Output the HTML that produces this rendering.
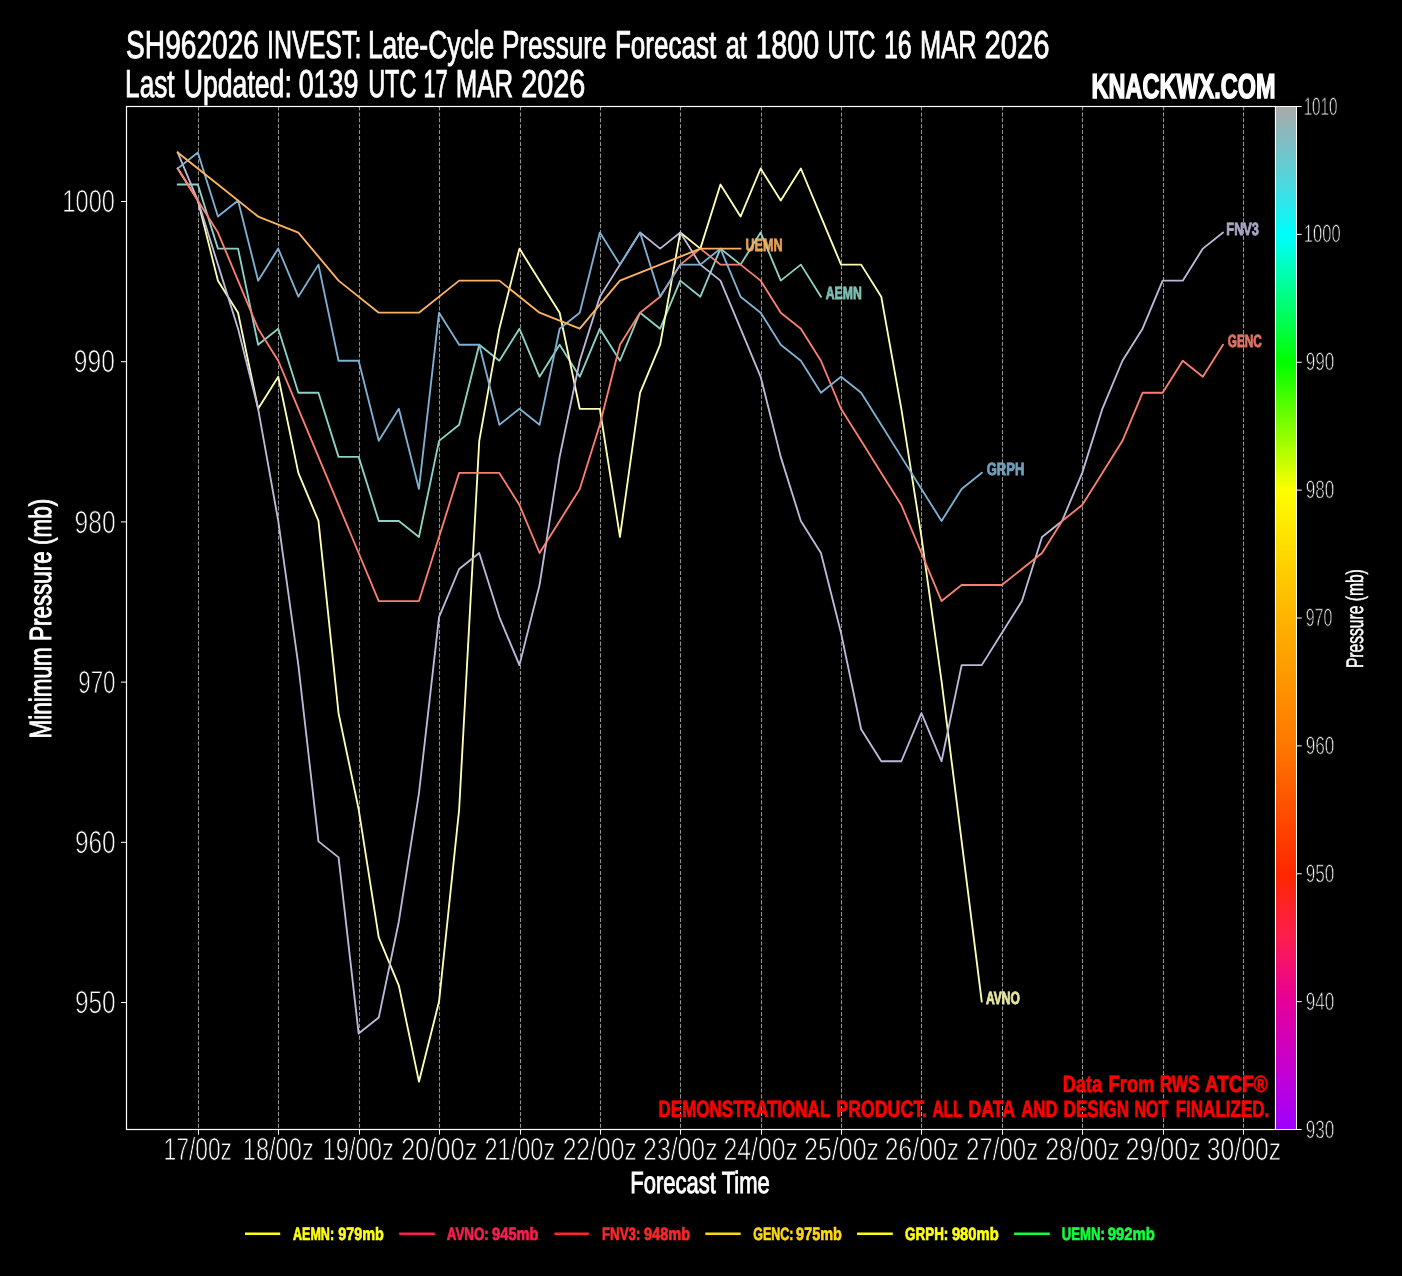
<!DOCTYPE html>
<html><head><meta charset="utf-8"><title>SH962026 INVEST Pressure Forecast</title>
<style>html,body{margin:0;padding:0;background:#000;}body{width:1402px;height:1276px;overflow:hidden;font-family:"Liberation Sans",sans-serif;}svg{display:block;}</style></head>
<body>
<svg width="1402" height="1276" viewBox="0 0 1402 1276" font-family='"Liberation Sans", sans-serif' style="opacity:0.9999;will-change:transform" text-rendering="geometricPrecision">
<defs><linearGradient id="cb" x1="0" y1="0" x2="0" y2="1">
<stop offset="0.0000" stop-color="#aaaaaa"/>
<stop offset="0.0625" stop-color="#5fd0d8"/>
<stop offset="0.1250" stop-color="#00ffff"/>
<stop offset="0.1875" stop-color="#00ff80"/>
<stop offset="0.2500" stop-color="#00ff00"/>
<stop offset="0.3125" stop-color="#80ff00"/>
<stop offset="0.3750" stop-color="#ffff00"/>
<stop offset="0.4375" stop-color="#ffd800"/>
<stop offset="0.5000" stop-color="#ffb400"/>
<stop offset="0.6250" stop-color="#ff7800"/>
<stop offset="0.7500" stop-color="#ff2800"/>
<stop offset="0.8125" stop-color="#ff1e50"/>
<stop offset="0.8750" stop-color="#e6009a"/>
<stop offset="0.9375" stop-color="#c800d0"/>
<stop offset="1.0000" stop-color="#a000ff"/>
</linearGradient>
<clipPath id="ax"><rect x="126.5" y="106.5" width="1149.0" height="1023.0"/></clipPath><clipPath id="redclip"><rect x="1063" y="1074" width="205" height="18"/><rect x="659" y="1100" width="609" height="18"/></clipPath></defs>
<rect width="1402" height="1276" fill="#000"/>
<path d="M198.50 106.5V1129.5M278.50 106.5V1129.5M359.50 106.5V1129.5M439.50 106.5V1129.5M520.50 106.5V1129.5M600.50 106.5V1129.5M680.50 106.5V1129.5M761.50 106.5V1129.5M841.50 106.5V1129.5M921.50 106.5V1129.5M1002.50 106.5V1129.5M1082.50 106.5V1129.5M1163.50 106.5V1129.5M1243.50 106.5V1129.5" stroke="#929292" stroke-width="1.1" stroke-dasharray="4.1 1.78" fill="none"/>
<g clip-path="url(#ax)" fill="none" stroke-width="1.85" stroke-linejoin="round" stroke-linecap="square">
<path d="M177.75 184.53L197.85 184.53L217.95 248.61L238.05 248.61L258.15 344.73L278.25 328.71L298.35 392.79L318.45 392.79L338.55 456.87L358.65 456.87L378.75 520.95L398.85 520.95L418.95 536.97L439.05 440.85L459.15 424.83L479.25 344.73L499.35 360.75L519.45 328.71L539.55 376.77L559.65 344.73L579.75 376.77L599.85 328.71L619.95 360.75L640.05 312.69L660.15 328.71L680.25 280.65L700.35 296.67L720.45 248.61L740.55 264.63L760.65 232.59L780.75 280.65L800.85 264.63L820.95 296.67" stroke="#8dd3c7"/>
<path d="M177.75 168.51L197.85 200.55L217.95 280.65L238.05 312.69L258.15 408.81L278.25 376.77L298.35 472.89L318.45 520.95L338.55 713.19L358.65 809.31L378.75 937.47L398.85 985.53L418.95 1081.65L439.05 1001.55L459.15 809.31L479.25 440.85L499.35 328.71L519.45 248.61L539.55 280.65L559.65 312.69L579.75 408.81L599.85 408.81L619.95 536.97L640.05 392.79L660.15 344.73L680.25 232.59L700.35 248.61L720.45 184.53L740.55 216.57L760.65 168.51L780.75 200.55L800.85 168.51L820.95 216.57L841.05 264.63L861.15 264.63L881.25 296.67L901.35 408.81L921.45 536.97L941.55 681.15L961.65 841.35L981.75 1001.55" stroke="#ffffb3"/>
<path d="M177.75 152.49L197.85 200.55L217.95 264.63L238.05 328.71L258.15 408.81L278.25 520.95L298.35 665.13L318.45 841.35L338.55 857.37L358.65 1033.59L378.75 1017.57L398.85 921.45L418.95 793.29L439.05 617.07L459.15 569.01L479.25 552.99L499.35 617.07L519.45 665.13L539.55 585.03L559.65 456.87L579.75 360.75L599.85 296.67L619.95 264.63L640.05 232.59L660.15 248.61L680.25 232.59L700.35 264.63L720.45 280.65L740.55 328.71L760.65 376.77L780.75 456.87L800.85 520.95L820.95 552.99L841.05 633.09L861.15 729.21L881.25 761.25L901.35 761.25L921.45 713.19L941.55 761.25L961.65 665.13L981.75 665.13L1001.85 633.09L1021.95 601.05L1042.05 536.97L1062.15 520.95L1082.25 472.89L1102.35 408.81L1122.45 360.75L1142.55 328.71L1162.65 280.65L1182.75 280.65L1202.85 248.61L1222.95 232.59" stroke="#bebada"/>
<path d="M177.75 168.51L197.85 200.55L217.95 232.59L238.05 280.65L258.15 328.71L278.25 360.75L298.35 408.81L318.45 456.87L338.55 504.93L358.65 552.99L378.75 601.05L398.85 601.05L418.95 601.05L439.05 536.97L459.15 472.89L479.25 472.89L499.35 472.89L519.45 504.93L539.55 552.99L559.65 520.95L579.75 488.91L599.85 424.83L619.95 344.73L640.05 312.69L660.15 296.67L680.25 264.63L700.35 248.61L720.45 264.63L740.55 264.63L760.65 280.65L780.75 312.69L800.85 328.71L820.95 360.75L841.05 408.81L861.15 440.85L881.25 472.89L901.35 504.93L921.45 552.99L941.55 601.05L961.65 585.03L981.75 585.03L1001.85 585.03L1021.95 569.01L1042.05 552.99L1062.15 520.95L1082.25 504.93L1102.35 472.89L1122.45 440.85L1142.55 392.79L1162.65 392.79L1182.75 360.75L1202.85 376.77L1222.95 344.73" stroke="#fb8072"/>
<path d="M177.75 168.51L197.85 152.49L217.95 216.57L238.05 200.55L258.15 280.65L278.25 248.61L298.35 296.67L318.45 264.63L338.55 360.75L358.65 360.75L378.75 440.85L398.85 408.81L418.95 488.91L439.05 312.69L459.15 344.73L479.25 344.73L499.35 424.83L519.45 408.81L539.55 424.83L559.65 328.71L579.75 312.69L599.85 232.59L619.95 264.63L640.05 232.59L660.15 296.67L680.25 264.63L700.35 264.63L720.45 248.61L740.55 296.67L760.65 312.69L780.75 344.73L800.85 360.75L820.95 392.79L841.05 376.77L861.15 392.79L881.25 424.83L901.35 456.87L921.45 488.91L941.55 520.95L961.65 488.91L981.75 472.89" stroke="#80b1d3"/>
<path d="M177.75 152.49L217.95 184.53L258.15 216.57L298.35 232.59L338.55 280.65L378.75 312.69L418.95 312.69L459.15 280.65L499.35 280.65L539.55 312.69L579.75 328.71L619.95 280.65L660.15 264.63L700.35 248.61L740.55 248.61" stroke="#fdb462"/>
</g>
<text x="825.75" y="299.07" font-size="17.7" font-weight="bold" fill="#8dd3c7" textLength="36.00" lengthAdjust="spacingAndGlyphs" stroke="#8dd3c7" stroke-width="0.9" opacity="0.9">AEMN</text>
<text x="985.95" y="1003.95" font-size="17.7" font-weight="bold" fill="#ffffb3" textLength="33.90" lengthAdjust="spacingAndGlyphs" stroke="#ffffb3" stroke-width="0.9" opacity="0.9">AVNO</text>
<text x="1226.35" y="234.99" font-size="17.7" font-weight="bold" fill="#bebada" textLength="32.60" lengthAdjust="spacingAndGlyphs" stroke="#bebada" stroke-width="0.9" opacity="0.9">FNV3</text>
<text x="1227.75" y="347.13" font-size="17.7" font-weight="bold" fill="#fb8072" textLength="34.10" lengthAdjust="spacingAndGlyphs" stroke="#fb8072" stroke-width="0.9" opacity="0.9">GENC</text>
<text x="986.75" y="475.29" font-size="17.7" font-weight="bold" fill="#80b1d3" textLength="37.60" lengthAdjust="spacingAndGlyphs" stroke="#80b1d3" stroke-width="0.9" opacity="0.9">GRPH</text>
<text x="745.45" y="251.01" font-size="17.7" font-weight="bold" fill="#fdb462" textLength="37.10" lengthAdjust="spacingAndGlyphs" stroke="#fdb462" stroke-width="0.9" opacity="0.9">UEMN</text>
<path d="M198.50 106.5V1129.5M278.50 106.5V1129.5M359.50 106.5V1129.5M439.50 106.5V1129.5M520.50 106.5V1129.5M600.50 106.5V1129.5M680.50 106.5V1129.5M761.50 106.5V1129.5M841.50 106.5V1129.5M921.50 106.5V1129.5M1002.50 106.5V1129.5M1082.50 106.5V1129.5M1163.50 106.5V1129.5M1243.50 106.5V1129.5" stroke="#fff" stroke-width="1.1" stroke-dasharray="4.1 1.78" fill="none" opacity="0.22" clip-path="url(#redclip)"/>
<rect x="126.5" y="106.5" width="1149.0" height="1023.0" fill="none" stroke="#fff" stroke-width="1.2"/>
<path d="M198.50 1129.5v5.2M278.50 1129.5v5.2M359.50 1129.5v5.2M439.50 1129.5v5.2M520.50 1129.5v5.2M600.50 1129.5v5.2M680.50 1129.5v5.2M761.50 1129.5v5.2M841.50 1129.5v5.2M921.50 1129.5v5.2M1002.50 1129.5v5.2M1082.50 1129.5v5.2M1163.50 1129.5v5.2M1243.50 1129.5v5.2M126.5 201.50h-5.5M126.5 361.70h-5.5M126.5 521.90h-5.5M126.5 682.10h-5.5M126.5 842.30h-5.5M126.5 1002.50h-5.5" stroke="#fff" stroke-width="1" fill="none"/>
<text x="163.57" y="1160.00" font-size="31.8" font-weight="normal" fill="#fff" textLength="68.40" lengthAdjust="spacingAndGlyphs" stroke="#000" stroke-width="0.8">17/00z</text>
<text x="242.72" y="1160.00" font-size="31.8" font-weight="normal" fill="#fff" textLength="71.04" lengthAdjust="spacingAndGlyphs" stroke="#000" stroke-width="0.8">18/00z</text>
<text x="322.43" y="1160.00" font-size="31.8" font-weight="normal" fill="#fff" textLength="71.45" lengthAdjust="spacingAndGlyphs" stroke="#000" stroke-width="0.8">19/00z</text>
<text x="400.90" y="1160.00" font-size="31.8" font-weight="normal" fill="#fff" textLength="76.55" lengthAdjust="spacingAndGlyphs" stroke="#000" stroke-width="0.8">20/00z</text>
<text x="484.51" y="1160.00" font-size="31.8" font-weight="normal" fill="#fff" textLength="70.70" lengthAdjust="spacingAndGlyphs" stroke="#000" stroke-width="0.8">21/00z</text>
<text x="562.64" y="1160.00" font-size="31.8" font-weight="normal" fill="#fff" textLength="74.12" lengthAdjust="spacingAndGlyphs" stroke="#000" stroke-width="0.8">22/00z</text>
<text x="643.12" y="1160.00" font-size="31.8" font-weight="normal" fill="#fff" textLength="74.42" lengthAdjust="spacingAndGlyphs" stroke="#000" stroke-width="0.8">23/00z</text>
<text x="723.48" y="1160.00" font-size="31.8" font-weight="normal" fill="#fff" textLength="74.44" lengthAdjust="spacingAndGlyphs" stroke="#000" stroke-width="0.8">24/00z</text>
<text x="804.03" y="1160.00" font-size="31.8" font-weight="normal" fill="#fff" textLength="75.03" lengthAdjust="spacingAndGlyphs" stroke="#000" stroke-width="0.8">25/00z</text>
<text x="884.81" y="1160.00" font-size="31.8" font-weight="normal" fill="#fff" textLength="74.25" lengthAdjust="spacingAndGlyphs" stroke="#000" stroke-width="0.8">26/00z</text>
<text x="965.98" y="1160.00" font-size="31.8" font-weight="normal" fill="#fff" textLength="72.29" lengthAdjust="spacingAndGlyphs" stroke="#000" stroke-width="0.8">27/00z</text>
<text x="1045.14" y="1160.00" font-size="31.8" font-weight="normal" fill="#fff" textLength="74.88" lengthAdjust="spacingAndGlyphs" stroke="#000" stroke-width="0.8">28/00z</text>
<text x="1125.46" y="1160.00" font-size="31.8" font-weight="normal" fill="#fff" textLength="75.36" lengthAdjust="spacingAndGlyphs" stroke="#000" stroke-width="0.8">29/00z</text>
<text x="1206.84" y="1160.00" font-size="31.8" font-weight="normal" fill="#fff" textLength="74.22" lengthAdjust="spacingAndGlyphs" stroke="#000" stroke-width="0.8">30/00z</text>
<text x="62.36" y="212.20" font-size="31.8" font-weight="normal" fill="#fff" textLength="52.56" lengthAdjust="spacingAndGlyphs" stroke="#000" stroke-width="0.8">1000</text>
<text x="73.81" y="372.40" font-size="31.8" font-weight="normal" fill="#fff" textLength="41.10" lengthAdjust="spacingAndGlyphs" stroke="#000" stroke-width="0.8">990</text>
<text x="74.60" y="532.60" font-size="31.8" font-weight="normal" fill="#fff" textLength="41.12" lengthAdjust="spacingAndGlyphs" stroke="#000" stroke-width="0.8">980</text>
<text x="78.23" y="692.80" font-size="31.8" font-weight="normal" fill="#fff" textLength="37.22" lengthAdjust="spacingAndGlyphs" stroke="#000" stroke-width="0.8">970</text>
<text x="74.93" y="853.00" font-size="31.8" font-weight="normal" fill="#fff" textLength="40.76" lengthAdjust="spacingAndGlyphs" stroke="#000" stroke-width="0.8">960</text>
<text x="74.93" y="1013.20" font-size="31.8" font-weight="normal" fill="#fff" textLength="40.76" lengthAdjust="spacingAndGlyphs" stroke="#000" stroke-width="0.8">950</text>
<text x="630.20" y="1192.80" font-size="30.7" font-weight="normal" fill="#fff" textLength="139.60" lengthAdjust="spacingAndGlyphs" stroke="#fff" stroke-width="0.95">Forecast Time</text>
<text x="0.00" y="0.00" font-size="30.7" font-weight="normal" fill="#fff" textLength="239.60" lengthAdjust="spacingAndGlyphs" transform="translate(51.00,738.40) rotate(-90)" stroke="#fff" stroke-width="0.95">Minimum Pressure (mb)</text>
<text x="126.12" y="57.80" font-size="38.8" font-weight="normal" fill="#fff" textLength="132.90" lengthAdjust="spacingAndGlyphs" stroke="#fff" stroke-width="0.9">SH962026</text>
<text x="267.02" y="57.80" font-size="38.8" font-weight="normal" fill="#fff" textLength="94.48" lengthAdjust="spacingAndGlyphs" stroke="#fff" stroke-width="0.9">INVEST:</text>
<text x="367.89" y="57.80" font-size="38.8" font-weight="normal" fill="#fff" textLength="126.40" lengthAdjust="spacingAndGlyphs" stroke="#fff" stroke-width="0.9">Late-Cycle</text>
<text x="501.92" y="57.80" font-size="38.8" font-weight="normal" fill="#fff" textLength="104.63" lengthAdjust="spacingAndGlyphs" stroke="#fff" stroke-width="0.9">Pressure</text>
<text x="614.88" y="57.80" font-size="38.8" font-weight="normal" fill="#fff" textLength="101.31" lengthAdjust="spacingAndGlyphs" stroke="#fff" stroke-width="0.9">Forecast</text>
<text x="725.63" y="57.80" font-size="38.8" font-weight="normal" fill="#fff" textLength="21.12" lengthAdjust="spacingAndGlyphs" stroke="#fff" stroke-width="0.9">at</text>
<text x="755.46" y="57.80" font-size="38.8" font-weight="normal" fill="#fff" textLength="63.62" lengthAdjust="spacingAndGlyphs" stroke="#fff" stroke-width="0.9">1800</text>
<text x="827.51" y="57.80" font-size="38.8" font-weight="normal" fill="#fff" textLength="47.98" lengthAdjust="spacingAndGlyphs" stroke="#fff" stroke-width="0.9">UTC</text>
<text x="883.93" y="57.80" font-size="38.8" font-weight="normal" fill="#fff" textLength="27.83" lengthAdjust="spacingAndGlyphs" stroke="#fff" stroke-width="0.9">16</text>
<text x="920.05" y="57.80" font-size="38.8" font-weight="normal" fill="#fff" textLength="56.49" lengthAdjust="spacingAndGlyphs" stroke="#fff" stroke-width="0.9">MAR</text>
<text x="984.52" y="57.80" font-size="38.8" font-weight="normal" fill="#fff" textLength="65.08" lengthAdjust="spacingAndGlyphs" stroke="#fff" stroke-width="0.9">2026</text>
<text x="125.11" y="97.00" font-size="38.8" font-weight="normal" fill="#fff" textLength="49.46" lengthAdjust="spacingAndGlyphs" stroke="#fff" stroke-width="0.9">Last</text>
<text x="183.80" y="97.00" font-size="38.8" font-weight="normal" fill="#fff" textLength="108.03" lengthAdjust="spacingAndGlyphs" stroke="#fff" stroke-width="0.9">Updated:</text>
<text x="298.71" y="97.00" font-size="38.8" font-weight="normal" fill="#fff" textLength="59.65" lengthAdjust="spacingAndGlyphs" stroke="#fff" stroke-width="0.9">0139</text>
<text x="368.16" y="97.00" font-size="38.8" font-weight="normal" fill="#fff" textLength="48.27" lengthAdjust="spacingAndGlyphs" stroke="#fff" stroke-width="0.9">UTC</text>
<text x="423.52" y="97.00" font-size="38.8" font-weight="normal" fill="#fff" textLength="24.19" lengthAdjust="spacingAndGlyphs" stroke="#fff" stroke-width="0.9">17</text>
<text x="455.86" y="97.00" font-size="38.8" font-weight="normal" fill="#fff" textLength="57.36" lengthAdjust="spacingAndGlyphs" stroke="#fff" stroke-width="0.9">MAR</text>
<text x="521.16" y="97.00" font-size="38.8" font-weight="normal" fill="#fff" textLength="64.18" lengthAdjust="spacingAndGlyphs" stroke="#fff" stroke-width="0.9">2026</text>
<text x="1062.85" y="1091.50" font-size="23.5" font-weight="bold" fill="#ff0000" textLength="39.31" lengthAdjust="spacingAndGlyphs" stroke="#ff0000" stroke-width="0.7">Data</text>
<text x="1108.60" y="1091.50" font-size="23.5" font-weight="bold" fill="#ff0000" textLength="45.83" lengthAdjust="spacingAndGlyphs" stroke="#ff0000" stroke-width="0.7">From</text>
<text x="1159.66" y="1091.50" font-size="23.5" font-weight="bold" fill="#ff0000" textLength="39.84" lengthAdjust="spacingAndGlyphs" stroke="#ff0000" stroke-width="0.7">RWS</text>
<text x="1205.08" y="1091.50" font-size="23.5" font-weight="bold" fill="#ff0000" textLength="62.66" lengthAdjust="spacingAndGlyphs" stroke="#ff0000" stroke-width="0.7">ATCF®</text>
<text x="658.53" y="1117.40" font-size="23.5" font-weight="bold" fill="#ff0000" textLength="171.78" lengthAdjust="spacingAndGlyphs" stroke="#ff0000" stroke-width="0.7">DEMONSTRATIONAL</text>
<text x="836.36" y="1117.40" font-size="23.5" font-weight="bold" fill="#ff0000" textLength="90.65" lengthAdjust="spacingAndGlyphs" stroke="#ff0000" stroke-width="0.7">PRODUCT.</text>
<text x="932.48" y="1117.40" font-size="23.5" font-weight="bold" fill="#ff0000" textLength="29.85" lengthAdjust="spacingAndGlyphs" stroke="#ff0000" stroke-width="0.7">ALL</text>
<text x="968.55" y="1117.40" font-size="23.5" font-weight="bold" fill="#ff0000" textLength="46.63" lengthAdjust="spacingAndGlyphs" stroke="#ff0000" stroke-width="0.7">DATA</text>
<text x="1021.23" y="1117.40" font-size="23.5" font-weight="bold" fill="#ff0000" textLength="36.43" lengthAdjust="spacingAndGlyphs" stroke="#ff0000" stroke-width="0.7">AND</text>
<text x="1063.58" y="1117.40" font-size="23.5" font-weight="bold" fill="#ff0000" textLength="65.48" lengthAdjust="spacingAndGlyphs" stroke="#ff0000" stroke-width="0.7">DESIGN</text>
<text x="1134.53" y="1117.40" font-size="23.5" font-weight="bold" fill="#ff0000" textLength="33.73" lengthAdjust="spacingAndGlyphs" stroke="#ff0000" stroke-width="0.7">NOT</text>
<text x="1175.66" y="1117.40" font-size="23.5" font-weight="bold" fill="#ff0000" textLength="93.65" lengthAdjust="spacingAndGlyphs" stroke="#ff0000" stroke-width="0.7">FINALIZED.</text>
<text x="1303.63" y="114.50" font-size="25.0" font-weight="normal" fill="#fff" textLength="33.82" lengthAdjust="spacingAndGlyphs" stroke="#000" stroke-width="0.8">1010</text>
<text x="1303.86" y="242.38" font-size="25.0" font-weight="normal" fill="#fff" textLength="36.70" lengthAdjust="spacingAndGlyphs" stroke="#000" stroke-width="0.8">1000</text>
<text x="1305.69" y="370.25" font-size="25.0" font-weight="normal" fill="#fff" textLength="28.53" lengthAdjust="spacingAndGlyphs" stroke="#000" stroke-width="0.8">990</text>
<text x="1305.69" y="498.12" font-size="25.0" font-weight="normal" fill="#fff" textLength="28.53" lengthAdjust="spacingAndGlyphs" stroke="#000" stroke-width="0.8">980</text>
<text x="1305.68" y="626.00" font-size="25.0" font-weight="normal" fill="#fff" textLength="26.57" lengthAdjust="spacingAndGlyphs" stroke="#000" stroke-width="0.8">970</text>
<text x="1305.69" y="753.88" font-size="25.0" font-weight="normal" fill="#fff" textLength="28.53" lengthAdjust="spacingAndGlyphs" stroke="#000" stroke-width="0.8">960</text>
<text x="1305.69" y="881.75" font-size="25.0" font-weight="normal" fill="#fff" textLength="28.53" lengthAdjust="spacingAndGlyphs" stroke="#000" stroke-width="0.8">950</text>
<text x="1305.69" y="1009.62" font-size="25.0" font-weight="normal" fill="#fff" textLength="28.53" lengthAdjust="spacingAndGlyphs" stroke="#000" stroke-width="0.8">940</text>
<text x="1305.69" y="1137.50" font-size="25.0" font-weight="normal" fill="#fff" textLength="28.53" lengthAdjust="spacingAndGlyphs" stroke="#000" stroke-width="0.8">930</text>
<text x="1091.60" y="98.40" font-size="34.4" font-weight="bold" fill="#fff" textLength="184.00" lengthAdjust="spacingAndGlyphs" stroke="#fff" stroke-width="1.5" stroke-linejoin="miter">KNACKWX.COM</text>
<rect x="1275.5" y="106.5" width="21.0" height="1023.0" fill="url(#cb)" stroke="#fff" stroke-width="1"/>
<path d="M1296.5 106.50h5.2M1296.5 234.38h5.2M1296.5 362.25h5.2M1296.5 490.12h5.2M1296.5 618.00h5.2M1296.5 745.88h5.2M1296.5 873.75h5.2M1296.5 1001.62h5.2M1296.5 1129.50h5.2" stroke="#fff" stroke-width="1" fill="none"/>
<text x="0.00" y="0.00" font-size="23.9" font-weight="normal" fill="#fff" textLength="98.90" lengthAdjust="spacingAndGlyphs" transform="translate(1363.00,668.10) rotate(-90)" stroke="#fff" stroke-width="0.5">Pressure (mb)</text>
<path d="M245.0 1233.8H280.2" stroke="#ffff14" stroke-width="2.4" fill="none"/>
<text x="293.00" y="1239.60" font-size="17.9" font-weight="bold" fill="#ffff14" textLength="41.10" lengthAdjust="spacingAndGlyphs" stroke="#ffff14" stroke-width="0.7">AEMN:</text>
<text x="338.20" y="1239.60" font-size="17.9" font-weight="bold" fill="#ffff14" textLength="45.60" lengthAdjust="spacingAndGlyphs" stroke="#ffff14" stroke-width="0.7">979mb</text>
<path d="M399.2 1233.8H434.8" stroke="#ff1e50" stroke-width="2.4" fill="none"/>
<text x="446.80" y="1239.60" font-size="17.9" font-weight="bold" fill="#ff1e50" textLength="42.00" lengthAdjust="spacingAndGlyphs" stroke="#ff1e50" stroke-width="0.7">AVNO:</text>
<text x="492.10" y="1239.60" font-size="17.9" font-weight="bold" fill="#ff1e50" textLength="46.40" lengthAdjust="spacingAndGlyphs" stroke="#ff1e50" stroke-width="0.7">945mb</text>
<path d="M554.4 1233.8H588.8" stroke="#ff2828" stroke-width="2.4" fill="none"/>
<text x="602.00" y="1239.60" font-size="17.9" font-weight="bold" fill="#ff2828" textLength="38.40" lengthAdjust="spacingAndGlyphs" stroke="#ff2828" stroke-width="0.7">FNV3:</text>
<text x="644.00" y="1239.60" font-size="17.9" font-weight="bold" fill="#ff2828" textLength="46.10" lengthAdjust="spacingAndGlyphs" stroke="#ff2828" stroke-width="0.7">948mb</text>
<path d="M705.3 1233.8H740.7" stroke="#ffd814" stroke-width="2.4" fill="none"/>
<text x="753.20" y="1239.60" font-size="17.9" font-weight="bold" fill="#ffd814" textLength="40.20" lengthAdjust="spacingAndGlyphs" stroke="#ffd814" stroke-width="0.7">GENC:</text>
<text x="796.10" y="1239.60" font-size="17.9" font-weight="bold" fill="#ffd814" textLength="45.80" lengthAdjust="spacingAndGlyphs" stroke="#ffd814" stroke-width="0.7">975mb</text>
<path d="M857.1 1233.8H892.8" stroke="#ffff14" stroke-width="2.4" fill="none"/>
<text x="905.10" y="1239.60" font-size="17.9" font-weight="bold" fill="#ffff14" textLength="43.20" lengthAdjust="spacingAndGlyphs" stroke="#ffff14" stroke-width="0.7">GRPH:</text>
<text x="951.90" y="1239.60" font-size="17.9" font-weight="bold" fill="#ffff14" textLength="46.90" lengthAdjust="spacingAndGlyphs" stroke="#ffff14" stroke-width="0.7">980mb</text>
<path d="M1014.1 1233.8H1049.8" stroke="#14ff3c" stroke-width="2.4" fill="none"/>
<text x="1061.70" y="1239.60" font-size="17.9" font-weight="bold" fill="#14ff3c" textLength="43.30" lengthAdjust="spacingAndGlyphs" stroke="#14ff3c" stroke-width="0.7">UEMN:</text>
<text x="1107.70" y="1239.60" font-size="17.9" font-weight="bold" fill="#14ff3c" textLength="47.20" lengthAdjust="spacingAndGlyphs" stroke="#14ff3c" stroke-width="0.7">992mb</text>
</svg>
</body></html>
